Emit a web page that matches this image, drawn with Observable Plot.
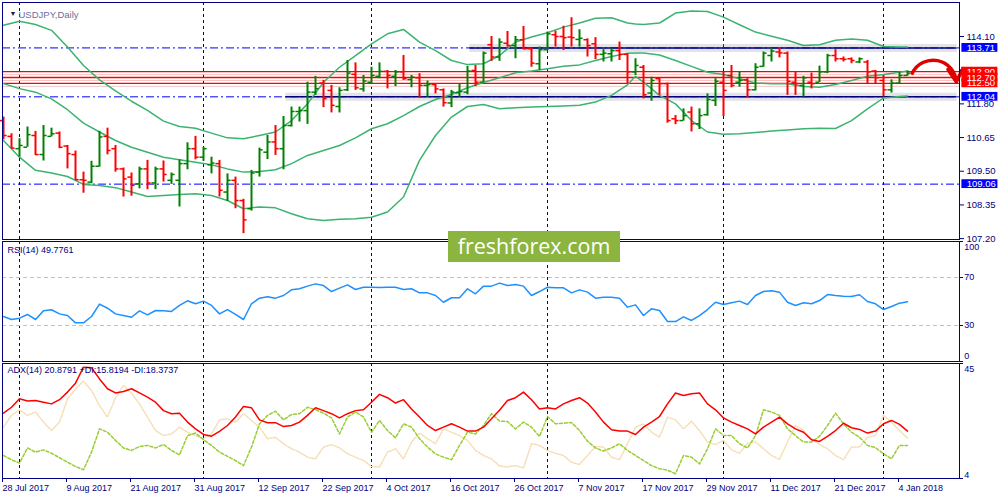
<!DOCTYPE html>
<html>
<head>
<meta charset="utf-8">
<script src="https://cdn.jsdelivr.net/npm/d3@7"></script>
<script src="https://cdn.jsdelivr.net/npm/@observablehq/plot@0.6"></script>
<style>
  body { margin: 0; background: #fff; }
  #wrap { position: relative; width: 1000px; height: 500px; overflow: hidden; }
  #wrap > div { position: absolute; left: 0; }
  #wrap > #logo { left: 448px; top: 231px; width: 172px; height: 31px; background: #8cb53f; color: #fff;
          font: 21.5px/29px "Open Sans", sans-serif; text-align: center; }
</style>
</head>
<body>
<div id="wrap">
  <div id="price" style="top:0"></div>
  <div id="rsi" style="top:240px"></div>
  <div id="adx" style="top:362px"></div>
  <div id="logo">freshforex.com</div>
</div>
<script>
// one bar per trading day, 28 Jul 2017 (bar 0) .. 5 Jan 2018 (bar 113)
const dateTicks = [0, 8, 16, 24, 32, 40, 48, 56, 64, 72, 80, 88, 96, 104, 112]
const dateLabels = ["28 Jul 2017", "9 Aug 2017", "21 Aug 2017", "31 Aug 2017", "12 Sep 2017",
  "22 Sep 2017", "4 Oct 2017", "16 Oct 2017", "26 Oct 2017", "7 Nov 2017", "17 Nov 2017",
  "29 Nov 2017", "11 Dec 2017", "21 Dec 2017", "4 Jan 2018"]
// first bar of each month (period separators)
const monthStarts = [2, 25, 46, 68, 90, 110]

const open = [111.23, 110.69, 110.27, 110.32, 110.72, 110.07, 110.69, 110.80, 110.36, 110.07,
  109.21, 109.13, 109.67, 110.69, 110.27, 109.58, 109.30, 109.07, 109.58, 109.10,
  109.58, 109.19, 109.19, 109.76, 110.27, 109.98, 109.72, 109.76, 108.79, 109.19,
  108.50, 108.22, 109.47, 110.15, 110.50, 110.27, 111.06, 111.54, 111.57, 112.20,
  112.51, 112.26, 111.71, 112.28, 112.81, 112.31, 112.54, 112.74, 112.91, 112.74,
  112.89, 112.63, 112.69, 112.43, 112.46, 112.28, 111.83, 112.18, 112.20, 112.94,
  112.54, 113.82, 113.40, 113.87, 113.79, 113.99, 113.68, 113.17, 113.65, 114.16,
  114.10, 114.08, 114.00, 113.99, 113.85, 113.49, 113.51, 113.62, 113.49, 112.89,
  113.05, 112.17, 112.66, 112.49, 111.29, 111.23, 111.52, 111.12, 111.43, 111.92,
  112.54, 112.77, 112.54, 112.62, 112.28, 113.08, 113.45, 113.57, 113.53, 112.54,
  112.43, 112.54, 112.54, 112.89, 113.45, 113.34, 113.34, 113.23, 113.23, 112.92,
  112.60, 112.28, 112.51, 112.77]
const high = [111.35, 110.78, 110.61, 111.01, 110.86, 111.06, 110.97, 110.84, 110.38, 110.19,
  109.47, 109.84, 110.86, 110.97, 110.38, 109.61, 109.44, 109.64, 109.87, 109.64,
  109.85, 109.44, 109.89, 110.47, 110.69, 110.32, 109.98, 109.87, 109.41, 109.30,
  108.54, 109.53, 110.29, 110.72, 111.06, 111.37, 111.69, 111.69, 112.54, 112.74,
  112.60, 112.43, 112.35, 113.28, 113.20, 112.77, 113.05, 113.20, 112.94, 112.94,
  113.45, 112.77, 112.83, 112.58, 112.49, 112.31, 112.26, 112.49, 113.08, 113.11,
  113.57, 114.10, 114.02, 114.27, 114.10, 114.44, 113.71, 113.74, 114.25, 114.28,
  114.45, 114.74, 114.33, 114.02, 114.06, 113.65, 113.68, 113.91, 113.51, 113.34,
  113.11, 112.71, 112.69, 112.51, 111.40, 111.63, 111.69, 111.63, 112.14, 112.66,
  112.88, 113.11, 112.88, 112.66, 113.17, 113.57, 113.70, 113.71, 113.57, 112.88,
  112.74, 112.85, 113.09, 113.49, 113.65, 113.40, 113.37, 113.37, 113.28, 112.94,
  112.77, 112.62, 112.88, 112.92]
const low = [110.57, 110.27, 109.98, 110.32, 110.04, 109.85, 110.67, 110.27, 109.58, 109.19,
  108.75, 109.07, 109.64, 110.06, 109.47, 108.62, 108.65, 108.90, 108.87, 108.87,
  109.13, 109.05, 108.28, 109.55, 109.89, 109.84, 109.41, 108.62, 108.47, 108.22,
  107.37, 108.14, 109.30, 109.90, 110.04, 109.55, 111.01, 111.18, 111.10, 112.09,
  111.67, 111.49, 111.49, 112.22, 112.26, 112.20, 112.49, 112.66, 112.31, 112.39,
  112.60, 112.35, 112.01, 112.03, 112.14, 111.69, 111.67, 112.03, 112.11, 112.39,
  112.52, 113.25, 113.25, 113.74, 113.34, 113.65, 113.05, 112.94, 113.62, 113.74,
  113.62, 113.74, 113.74, 113.40, 113.31, 113.23, 113.23, 113.28, 112.49, 112.77,
  111.97, 111.89, 112.09, 111.14, 111.09, 111.21, 110.84, 110.92, 111.38, 111.71,
  111.37, 112.35, 112.37, 111.99, 112.24, 113.05, 113.23, 113.37, 112.09, 112.09,
  112.03, 112.31, 112.53, 112.83, 113.23, 113.23, 113.17, 113.17, 112.49, 112.49,
  112.03, 112.17, 112.49, 112.74]
const close = [110.72, 110.29, 110.38, 110.75, 110.07, 110.72, 110.78, 110.32, 110.10, 109.21,
  109.19, 109.67, 110.67, 110.21, 109.58, 109.24, 109.02, 109.58, 109.10, 109.58,
  109.39, 109.39, 109.76, 110.27, 109.98, 110.27, 109.78, 108.85, 109.19, 108.50,
  107.84, 109.44, 110.23, 110.50, 110.27, 111.06, 111.54, 111.57, 112.20, 112.32,
  111.98, 111.75, 112.26, 112.85, 112.35, 112.58, 112.77, 112.91, 112.77, 112.89,
  112.66, 112.71, 112.43, 112.46, 112.31, 111.84, 112.20, 112.22, 112.92, 112.54,
  113.53, 113.40, 113.91, 113.79, 113.99, 113.68, 113.19, 113.65, 114.19, 114.10,
  114.06, 114.06, 114.04, 113.79, 113.49, 113.53, 113.62, 113.49, 112.89, 113.11,
  112.11, 112.60, 112.49, 111.23, 111.23, 111.40, 111.12, 111.40, 111.95, 112.57,
  112.26, 112.43, 112.60, 112.28, 113.05, 113.53, 113.60, 113.54, 112.57, 112.49,
  112.69, 112.49, 112.89, 113.45, 113.34, 113.32, 113.28, 113.34, 112.89, 112.69,
  112.28, 112.51, 112.77, 112.85]

// Bollinger bands (20), read at these bars
const bbIdx = [0, 2, 4, 6, 8, 10, 12, 14, 16, 18, 20, 22, 24, 26, 28, 30, 32, 34, 36, 38,
  40, 42, 44, 46, 48, 50, 52, 54, 56, 58, 60, 62, 64, 66, 68, 70, 72, 74, 76, 78, 79,
  80, 82, 84, 86, 88, 90, 92, 94, 96, 98, 100, 102, 104, 106, 108, 110, 112, 113]
const bbUpper = [114.48, 114.62, 114.51, 114.31, 113.74, 113.11, 112.62, 112.24, 111.89, 111.58,
  111.21, 111.03, 110.97, 110.80, 110.64, 110.61, 110.72, 110.84, 111.23, 111.80,
  112.54, 113.05, 113.45, 113.85, 114.19, 114.34, 113.91, 113.62, 113.28, 113.14,
  113.17, 113.45, 113.91, 114.08, 114.23, 114.42, 114.56, 114.72, 114.74, 114.56, 114.53,
  114.51, 114.56, 114.90, 114.97, 114.95, 114.76, 114.50, 114.25, 114.11, 113.97,
  113.79, 113.82, 113.97, 114.01, 113.97, 113.76, 113.74, 113.74]
const bbMiddle = [112.49, 112.32, 112.20, 111.97, 111.60, 111.14, 110.84, 110.55, 110.32, 110.15,
  109.98, 109.89, 109.81, 109.72, 109.58, 109.47, 109.49, 109.55, 109.76, 110.04,
  110.21, 110.38, 110.64, 110.95, 111.12, 111.40, 111.71, 111.95, 112.12, 112.35,
  112.53, 112.69, 112.86, 112.92, 113.00, 113.08, 113.13, 113.28, 113.42, 113.53, 113.54,
  113.54, 113.47, 113.28, 113.08, 112.88, 112.80, 112.66, 112.51, 112.49, 112.49,
  112.39, 112.37, 112.46, 112.60, 112.74, 112.80, 112.88, 112.92]
const bbLower = [110.55, 109.98, 109.53, 109.44, 109.32, 109.05, 109.01, 108.94, 108.79, 108.64,
  108.67, 108.71, 108.73, 108.67, 108.50, 108.22, 108.28, 108.25, 108.05, 107.88,
  107.82, 107.86, 107.88, 107.93, 108.11, 108.62, 109.87, 110.72, 111.35, 111.71,
  111.78, 111.63, 111.67, 111.69, 111.71, 111.73, 111.75, 111.86, 112.09, 112.45, 112.74,
  112.54, 112.09, 111.80, 111.23, 110.84, 110.76, 110.78, 110.82, 110.87, 110.91,
  110.95, 110.97, 110.96, 111.23, 111.63, 112.00, 112.05, 112.07]

const rsi = [37.5, 35.0, 36.1, 39.2, 35.0, 42.2, 43.1, 39.7, 38.3, 32.2,
  32.2, 37.5, 47.8, 44.4, 39.7, 38.3, 36.9, 42.2, 38.9, 42.5,
  42.2, 41.7, 46.7, 50.6, 48.1, 50.3, 46.7, 39.7, 43.3, 39.2,
  35.0, 48.1, 52.8, 53.9, 52.8, 55.0, 59.7, 60.6, 62.8, 64.7,
  63.3, 58.3, 61.1, 63.9, 60.0, 61.9, 61.9, 61.7, 61.9, 61.9,
  60.0, 60.6, 57.2, 57.2, 55.0, 49.4, 53.1, 53.1, 60.6, 56.4,
  62.8, 62.8, 65.3, 63.3, 64.2, 62.8, 55.0, 58.3, 61.9, 61.4,
  61.4, 57.2, 59.7, 57.8, 52.8, 53.6, 53.6, 52.8, 45.3, 47.2,
  38.3, 43.9, 42.5, 33.3, 33.3, 37.2, 34.2, 38.3, 43.3, 49.4,
  47.5, 48.9, 50.3, 47.5, 55.0, 58.3, 58.9, 57.8, 49.4, 46.7,
  48.9, 48.1, 50.8, 55.8, 55.0, 54.4, 54.2, 55.6, 50.0, 48.1,
  43.3, 45.8, 48.6, 49.8]
const rsiLevels = [70, 30]

const adx = [27.3, 29.4, 32.4, 31.6, 31.8, 31.2, 30.6, 32.1, 34.8, 38.0,
  43.7, 43.5, 39.5, 36.0, 34.5, 35.0, 36.0, 34.5, 33.0, 31.2,
  28.2, 27.1, 27.3, 24.1, 21.7, 19.7, 19.1, 20.8, 22.9, 25.9,
  29.7, 29.2, 24.9, 23.9, 23.9, 22.5, 22.9, 24.1, 26.5, 29.2,
  28.2, 27.1, 25.6, 27.1, 28.2, 28.5, 31.2, 34.0, 32.8, 30.9,
  32.1, 28.8, 25.9, 22.9, 21.1, 22.3, 23.5, 22.3, 20.9, 20.9,
  22.3, 25.3, 28.3, 31.8, 32.8, 34.8, 32.1, 28.8, 29.2, 28.8,
  30.6, 31.8, 32.8, 30.9, 27.7, 24.1, 21.4, 20.9, 20.9, 19.7,
  22.3, 24.1, 26.1, 30.6, 34.5, 33.6, 34.2, 34.5, 30.6, 28.5,
  25.6, 24.1, 22.9, 21.7, 19.9, 22.3, 24.1, 25.9, 23.5, 21.7,
  20.5, 17.8, 17.2, 19.0, 21.1, 23.7, 22.1, 21.5, 20.2, 20.9,
  23.5, 24.7, 23.3, 20.9]
const plusDI = [12.2, 10.7, 9.5, 14.9, 13.4, 14.2, 13.0, 11.4, 9.8, 8.3,
  7.1, 13.4, 21.7, 20.5, 17.6, 14.9, 14.0, 15.4, 15.8, 14.9,
  16.1, 14.0, 12.4, 19.3, 20.2, 17.8, 15.8, 13.4, 11.9, 10.4,
  8.6, 15.2, 23.5, 26.5, 28.0, 24.9, 26.8, 27.1, 29.4, 28.5,
  27.3, 25.6, 19.9, 25.9, 27.7, 25.9, 20.5, 24.7, 21.1, 18.5,
  23.5, 22.3, 18.2, 15.2, 12.8, 11.6, 10.7, 15.8, 20.5, 19.9,
  22.9, 27.1, 24.5, 24.3, 21.7, 24.1, 22.3, 19.0, 26.1, 23.5,
  23.7, 24.0, 21.1, 17.3, 14.9, 13.8, 14.9, 16.4, 14.0, 12.2,
  10.4, 8.6, 7.5, 7.0, 5.7, 12.2, 11.6, 9.2, 14.6, 21.7,
  19.3, 19.3, 16.4, 14.9, 19.3, 28.5, 27.7, 26.5, 21.7, 19.3,
  17.0, 17.0, 19.0, 22.9, 27.3, 23.5, 20.5, 18.7, 15.8, 15.0,
  12.8, 11.0, 15.8, 15.8]
const minusDI = [22.3, 26.5, 28.5, 26.5, 27.7, 24.1, 21.1, 24.1, 32.4, 36.0,
  38.7, 35.4, 30.0, 25.9, 32.8, 37.2, 34.4, 30.6, 25.9, 21.1,
  19.3, 19.9, 22.3, 20.5, 19.3, 18.2, 19.9, 24.9, 25.3, 24.1,
  27.1, 24.7, 22.3, 18.2, 18.7, 16.4, 14.6, 13.4, 11.6, 11.0,
  15.2, 16.1, 14.9, 12.8, 11.6, 10.4, 8.3, 8.1, 13.4, 14.6,
  11.0, 17.0, 20.2, 18.2, 16.4, 21.7, 20.5, 19.3, 17.6, 14.0,
  12.2, 11.0, 8.5, 8.1, 8.6, 7.8, 16.4, 15.8, 14.0, 13.0,
  12.2, 9.8, 9.0, 12.2, 15.4, 15.2, 11.6, 10.7, 16.4, 22.3,
  23.5, 20.5, 18.7, 25.9, 24.9, 21.7, 24.4, 21.1, 17.0, 16.1,
  17.6, 14.2, 13.0, 16.6, 17.0, 14.6, 12.2, 10.8, 17.0, 22.9,
  21.1, 18.2, 16.1, 14.6, 12.2, 10.7, 15.2, 15.2, 18.7, 19.3,
  26.5, 24.1, 21.1, 18.4]

// price axis and drawn levels
const priceTicks = [114.10, 112.95, 111.80, 110.65, 109.50, 108.35, 107.20]
const blueLevels = [113.71, 112.04, 109.06]
const redLevels = [112.90, 112.50, 112.70]   // 112.70 last: its label sits on top
const trendLines = [{y: 113.71, from: 58.3}, {y: 112.04, from: 35.3}]
const forecastArrow = {from: [113.6, 112.85], to: [119.1, 112.55]}

const NAVY = "#000080", UP = "#008000", DOWN = "#ff0000", BB = "#3cb371"
const LAST = 119.5
const common = {
  width: 1000, marginLeft: 2, marginRight: 41,
  x: {domain: [-0.125, LAST], axis: null},
  style: {fontFamily: '"Liberation Sans", Arial, sans-serif', fontSize: "9px", color: NAVY,
    background: "transparent", overflow: "visible"}
}

const bars = open.map((o, i) => ({i, o, h: high[i], l: low[i], c: close[i], up: close[i] > o}))
const bb = bbIdx.map((i, k) => ({i, up: bbUpper[k], mid: bbMiddle[k], lo: bbLower[k]}))
const separators = Plot.ruleX(monthStarts, {stroke: NAVY, strokeDasharray: "3,3"})

function barMarks(up) {
  const color = up ? UP : DOWN
  const f = d => d.up === up
  return [
    Plot.ruleX(bars, {filter: f, x: "i", y1: "l", y2: "h", stroke: color, strokeWidth: 2}),
    Plot.ruleY(bars, {filter: f, y: "o", x1: d => d.i - 0.45, x2: "i", stroke: color, strokeWidth: 1.5}),
    Plot.ruleY(bars, {filter: f, y: "c", x1: "i", x2: d => d.i + 0.45, stroke: color, strokeWidth: 1.5})
  ]
}

// label box on the price scale, one per level
function levelLabel(v, fill) {
  return [
    Plot.rect([v], {x1: LAST + 0.3, x2: LAST + 4.8, y1: d => d - 0.15, y2: d => d + 0.15, fill}),
    Plot.text([v], {x: LAST + 0.9, y: d => d, text: d => d.toFixed(2), fill: "white", textAnchor: "start", fontSize: 9.5})
  ]
}

let chart = Plot.plot({
  ...common, height: 240, marginTop: 2, marginBottom: 1,
  y: {domain: [107.17, 115.26], axis: null},
  marks: [
    separators,
    Plot.ruleY(blueLevels, {stroke: "#0000ff", strokeDasharray: "8,3,2,3"}),
    Plot.ruleY(trendLines, {y: "y", x1: "from", x2: LAST - 0.3, stroke: "#8a8aa0", strokeWidth: 8, strokeOpacity: 0.25}),
    Plot.ruleY(trendLines, {y: "y", x1: "from", x2: LAST - 0.3, stroke: NAVY, strokeWidth: 1.5}),
    Plot.ruleY(redLevels, {stroke: "#f2c4c4", dy: 3}),
    Plot.ruleY(redLevels, {stroke: "#ff0000", strokeWidth: 1.3}),
    Plot.line(bb, {x: "i", y: "up", stroke: BB}),
    Plot.line(bb, {x: "i", y: "mid", stroke: BB}),
    Plot.line(bb, {x: "i", y: "lo", stroke: BB}),
    ...barMarks(true),
    ...barMarks(false),
    Plot.arrow([forecastArrow], {
      x1: d => d.from[0], y1: d => d.from[1], x2: d => d.to[0], y2: d => d.to[1],
      bend: 75, stroke: "#e00000", strokeWidth: 3.5, headLength: 10
    }),
    Plot.frame({stroke: NAVY}),
    Plot.axisY({anchor: "right", ticks: priceTicks, tickFormat: d3.format(".2f"), tickSize: 4, tickPadding: 3, color: NAVY, fontSize: 9.5}),
    ...blueLevels.flatMap(v => levelLabel(v, "#0000ff")),
    ...redLevels.flatMap(v => levelLabel(v, "#ff0000")),
    Plot.text(["▼"], {text: d => d, frameAnchor: "top-left", dx: 7, dy: 9, fontSize: 7, fill: "#202040"}),
    Plot.text(["USDJPY,Daily"], {text: d => d, frameAnchor: "top-left", dx: 16, dy: 9, textAnchor: "start", fill: "#6e6e9e", fontSize: 9.5})
  ]
})

let chart2 = Plot.plot({
  ...common, height: 122, marginTop: 1, marginBottom: 1,
  y: {domain: [0, 100], axis: null},
  marks: [
    separators,
    Plot.ruleY(rsiLevels, {stroke: "#c0c0c0", strokeDasharray: "4,3"}),
    Plot.line(rsi, {x: (d, i) => i, y: d => d, stroke: "#1e90ff"}),
    Plot.frame({stroke: NAVY}),
    Plot.ruleY([100, 70, 30, 0], {x1: LAST, x2: LAST + 0.5, stroke: NAVY}),
    Plot.text([100], {x: LAST + 0.6, y: d => d, text: d => d, textAnchor: "start", lineAnchor: "top", dy: 2}),
    Plot.text(rsiLevels, {x: LAST + 0.6, y: d => d, text: d => d, textAnchor: "start"}),
    Plot.text([0], {x: LAST + 0.6, y: d => d, text: d => d, textAnchor: "start", lineAnchor: "bottom", dy: -3}),
    Plot.text(["RSI(14) 49.7761"], {text: d => d, frameAnchor: "top-left", dx: 5, dy: 5, textAnchor: "start", lineAnchor: "top"})
  ]
})

let chart3 = Plot.plot({
  ...common, height: 138, marginTop: 1, marginBottom: 22,
  y: {domain: [4, 45], axis: null},
  marks: [
    separators,
    Plot.line(minusDI, {x: (d, i) => i, y: d => d, stroke: "#f5deb3", strokeDasharray: "1.5,1.5"}),
    Plot.line(plusDI, {x: (d, i) => i, y: d => d, stroke: "#9acd32", strokeDasharray: "3,2"}),
    Plot.line(adx, {x: (d, i) => i, y: d => d, stroke: "#ff0000"}),
    Plot.frame({stroke: NAVY}),
    Plot.ruleY([45, 4], {x1: LAST, x2: LAST + 0.5, stroke: NAVY}),
    Plot.text([45], {x: LAST + 0.6, y: d => d, text: d => d, textAnchor: "start", lineAnchor: "top", dy: 2}),
    Plot.text([4], {x: LAST + 0.6, y: d => d, text: d => d, textAnchor: "start", lineAnchor: "bottom", dy: -1}),
    Plot.text(["ADX(14) 20.8791 +DI:15.8194 -DI:18.3737"], {text: d => d, frameAnchor: "top-left", dx: 5, dy: 3, textAnchor: "start", lineAnchor: "top"}),
    Plot.axisX({ticks: dateTicks, tickFormat: i => dateLabels[dateTicks.indexOf(i)], textAnchor: "start",
      tickSize: 4, tickPadding: 2, color: NAVY, dx: -1})
  ]
})

d3.select('#price').append(() => chart)
d3.select('#rsi').append(() => chart2)
d3.select('#adx').append(() => chart3)
</script>
</body>
</html>
